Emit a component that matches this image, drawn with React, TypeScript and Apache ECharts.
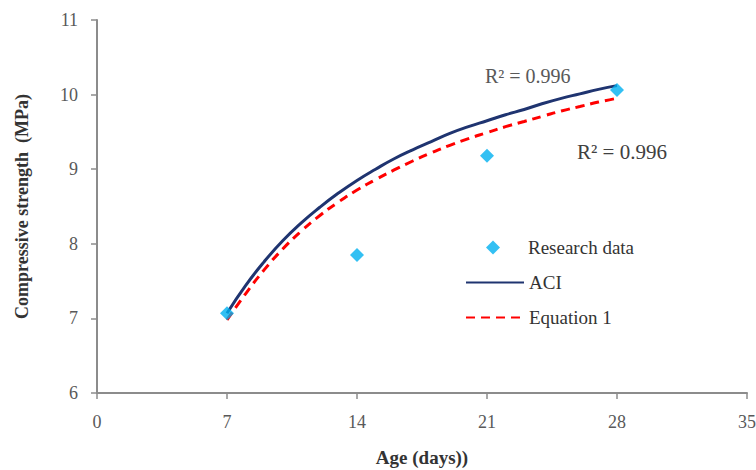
import React, { useEffect, useRef } from "react";
import * as echarts from "echarts";

const researchDays = [7, 14, 21, 28];
const researchValues = [7.07, 7.85, 9.18, 10.06];

const curveDays = [7, 8, 9, 10, 11, 12, 13, 14, 15, 16, 17, 18, 19, 20, 21, 22, 23, 24, 25, 26, 27, 28];
const aciValues = [7.07, 7.44, 7.76, 8.04, 8.28, 8.49, 8.68, 8.85, 9.0, 9.14, 9.26, 9.37, 9.48, 9.57, 9.65, 9.73, 9.8, 9.88, 9.95, 10.01, 10.07, 10.12];
const eq1Values = [6.98, 7.33, 7.65, 7.93, 8.17, 8.38, 8.56, 8.72, 8.86, 8.99, 9.11, 9.22, 9.32, 9.41, 9.49, 9.57, 9.64, 9.71, 9.78, 9.84, 9.9, 9.95];

const xTicks = [0, 7, 14, 21, 28, 35];
const yTicks = [6, 7, 8, 9, 10, 11];
const r2Labels = ["R² = 0.996", "R² = 0.996"];

const SERIF = "'Liberation Serif', 'Times New Roman', serif";

export default function App() {
  const ref = useRef<HTMLDivElement>(null);
  useEffect(() => {
    if (!ref.current) return;
    const chart = echarts.init(ref.current, null, { renderer: "svg" });
    const axisColor = "#8c8c8c";
    const legendText = { fontFamily: SERIF, fontSize: 19, color: "#333333" };
    chart.setOption({
      animation: false,
      backgroundColor: "#ffffff",
      textStyle: { fontFamily: SERIF },
      grid: { left: 97, right: 9, top: 20, bottom: 77, outerBoundsMode: "none", containLabel: false },
      xAxis: {
        type: "value",
        min: xTicks[0],
        max: xTicks[xTicks.length - 1],
        interval: 7,
        name: "Age (days))",
        nameLocation: "middle",
        nameGap: 55,
        nameTextStyle: { fontFamily: SERIF, fontWeight: "bold", fontSize: 19, color: "#333333" },
        axisLine: { show: true, lineStyle: { color: axisColor, width: 2 } },
        axisTick: { show: true, inside: false, length: 6, lineStyle: { color: axisColor, width: 1.5 } },
        axisLabel: { fontFamily: SERIF, fontSize: 18, color: "#595959", margin: 20 },
        splitLine: { show: false },
      },
      yAxis: {
        type: "value",
        min: yTicks[0],
        max: yTicks[yTicks.length - 1],
        interval: 1,
        name: "Compressive strength  (MPa)",
        nameLocation: "middle",
        nameGap: 66,
        nameTextStyle: { fontFamily: SERIF, fontWeight: "bold", fontSize: 18, color: "#333333" },
        axisLine: { show: true, lineStyle: { color: axisColor, width: 2 } },
        axisTick: { show: true, inside: false, length: 6, lineStyle: { color: axisColor, width: 1.5 } },
        axisLabel: { fontFamily: SERIF, fontSize: 18, color: "#595959", margin: 19 },
        splitLine: { show: false },
      },
      legend: [
        {
          left: 486,
          top: 238,
          padding: 0,
          itemWidth: 14,
          itemHeight: 14,
          textStyle: { ...legendText, padding: [0, 0, 0, 23] },
          data: [{ name: "Research data", icon: "diamond" }],
        },
        {
          left: 465,
          top: 273,
          padding: 0,
          itemWidth: 58,
          itemHeight: 14,
          itemStyle: { color: "transparent", borderWidth: 0 },
          textStyle: legendText,
          data: [{ name: "ACI" }],
        },
        {
          left: 465,
          top: 308,
          padding: 0,
          itemWidth: 58,
          itemHeight: 14,
          itemStyle: { color: "transparent", borderWidth: 0 },
          textStyle: legendText,
          data: [{ name: "Equation 1" }],
        },
      ],
      series: [
        {
          name: "ACI",
          type: "line",
          data: curveDays.map((d, i) => [d, aciValues[i]]),
          smooth: true,
          symbol: "none",
          lineStyle: { color: "#1f3470", width: 3 },
          itemStyle: { color: "#1f3470" },
          z: 2,
        },
        {
          name: "Equation 1",
          type: "line",
          data: curveDays.map((d, i) => [d, eq1Values[i]]),
          smooth: true,
          symbol: "none",
          lineStyle: { color: "#ff0000", width: 3, type: [9, 6] },
          itemStyle: { color: "#ff0000" },
          z: 3,
        },
        {
          name: "Research data",
          type: "scatter",
          data: researchDays.map((d, i) => [d, researchValues[i]]),
          symbol: "diamond",
          symbolSize: 14,
          itemStyle: { color: "#00b0f0" },
          z: 4,
        },
      ],
      graphic: [
        {
          type: "text",
          left: 485,
          top: 66,
          style: { text: r2Labels[0], fontFamily: SERIF, fontSize: 20, fill: "#595959" },
        },
        {
          type: "text",
          left: 577,
          top: 141,
          style: { text: r2Labels[1], fontFamily: SERIF, fontSize: 21, fill: "#404040" },
        },
      ],
    });
    return () => chart.dispose();
  }, []);
  return <div ref={ref} style={{ width: 756, height: 470, position: "absolute", left: 0, top: 0 }} />;
}
